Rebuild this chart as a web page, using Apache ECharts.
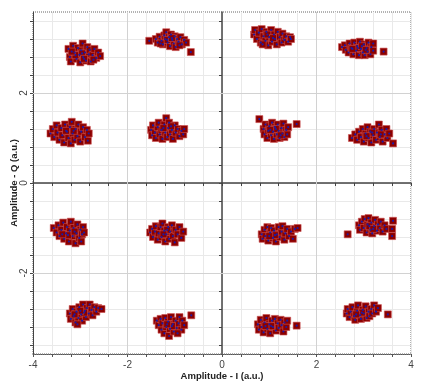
<!DOCTYPE html>
<html>
<head>
<meta charset="utf-8">
<script src="https://cdn.jsdelivr.net/npm/echarts@6/dist/echarts.min.js"></script>
<style>html,body{margin:0;padding:0;background:#fff}#c{width:421px;height:388px}</style>
</head>
<body>
<div id="c"></div>
<script>
var xTicks = [-4,-3.6,-3.2,-2.8,-2.4,-2,-1.6,-1.2,-0.8,-0.4,0,0.4,0.8,1.2,1.6,2,2.4,2.8,3.2,3.6,4];
var yTicks = [-3.6,-3.2,-2.8,-2.4,-2,-1.6,-1.2,-0.8,-0.4,0,0.4,0.8,1.2,1.6,2,2.4,2.8,3.2,3.6];
var xLabels = [-4,-2,0,2,4];
var yLabels = [-2,0,2];
var xName = 'Amplitude - I (a.u.)';
var yName = 'Amplitude - Q (a.u.)';

var clusterA = [[-3.25,2.98],[-3.22,2.80],[-3.20,2.70],[-3.15,3.05],[-3.12,2.90],[-3.08,2.76],[-3.05,3.00],[-3.02,2.85],[-3.00,2.68],[-2.98,2.95],[-2.95,3.10],[-2.94,2.80],[-2.90,2.90],[-2.88,2.72],[-2.85,3.02],[-2.82,2.86],[-2.80,2.96],[-2.78,2.70],[-2.74,2.84],[-2.70,2.98],[-2.66,2.78],[-2.62,2.90],[-2.58,2.82],[-3.10,2.84],[-2.96,2.88],[-3.18,2.92],[-2.92,2.76],[-2.72,2.74]];
var clusterB = [[-1.54,3.16],[-0.66,2.91],[-1.40,3.20],[-1.36,3.12],[-1.32,3.25],[-1.28,3.16],[-1.25,3.08],[-1.22,3.28],[-1.20,3.20],[-1.18,3.35],[-1.15,3.12],[-1.12,3.24],[-1.10,3.04],[-1.08,3.30],[-1.05,3.18],[-1.02,3.10],[-1.00,3.26],[-0.98,3.02],[-0.95,3.20],[-0.92,3.14],[-0.88,3.24],[-0.85,3.08],[-0.80,3.18],[-0.76,3.12],[-1.16,3.18],[-1.06,3.22],[-1.30,3.10],[-0.90,3.06]];
var clusterC = [[-3.63,1.10],[-3.58,1.20],[-3.55,1.02],[-3.50,1.28],[-3.48,1.12],[-3.44,0.96],[-3.40,1.22],[-3.38,1.06],[-3.34,0.90],[-3.32,1.30],[-3.28,1.14],[-3.25,1.00],[-3.22,1.24],[-3.20,0.88],[-3.18,1.36],[-3.16,1.10],[-3.12,0.96],[-3.10,1.20],[-3.06,1.04],[-3.04,1.30],[-3.00,0.92],[-2.98,1.14],[-2.94,1.24],[-2.90,1.02],[-2.86,1.18],[-2.84,0.94],[-2.82,1.10],[-3.30,1.16],[-3.14,1.16]];
var clusterD = [[-1.50,1.18],[-1.48,1.06],[-1.46,1.28],[-1.42,1.12],[-1.40,1.00],[-1.36,1.24],[-1.34,1.34],[-1.32,1.08],[-1.28,1.18],[-1.26,0.98],[-1.22,1.30],[-1.20,1.12],[-1.18,1.44],[-1.16,1.02],[-1.14,1.22],[-1.12,1.34],[-1.10,1.08],[-1.06,1.18],[-1.04,0.98],[-1.00,1.28],[-0.98,1.12],[-0.94,1.20],[-0.90,1.04],[-0.86,1.16],[-0.82,1.08],[-0.80,1.20],[-1.24,1.22],[-1.08,1.26]];
var clusterE = [[0.68,3.30],[0.70,3.40],[0.74,3.20],[0.78,3.34],[0.82,3.12],[0.84,3.42],[0.88,3.26],[0.92,3.16],[0.94,3.36],[0.98,3.06],[1.00,3.24],[1.04,3.40],[1.06,3.14],[1.10,3.30],[1.12,3.20],[1.16,3.08],[1.18,3.36],[1.22,3.24],[1.26,3.12],[1.28,3.32],[1.32,3.18],[1.36,3.26],[1.40,3.14],[1.44,3.24],[1.46,3.20],[0.96,3.30],[1.08,3.22],[0.86,3.08]];
var clusterF = [[3.42,2.92],[2.54,3.02],[2.60,3.06],[2.62,2.96],[2.68,2.90],[2.70,3.10],[2.74,3.00],[2.78,2.86],[2.80,3.12],[2.84,2.94],[2.86,3.04],[2.90,2.84],[2.92,3.14],[2.94,2.98],[2.98,2.90],[3.00,3.08],[3.02,2.84],[3.06,3.00],[3.08,2.92],[3.10,3.12],[3.14,2.86],[3.16,3.02],[3.20,2.94],[3.20,3.10],[2.88,3.00],[2.96,3.04],[3.04,2.96],[2.76,2.98]];
var clusterG = [[0.79,1.42],[1.58,1.31],[0.88,1.20],[0.90,1.08],[0.92,1.30],[0.96,1.00],[0.98,1.16],[1.00,1.26],[1.04,1.06],[1.06,1.34],[1.08,1.14],[1.10,0.98],[1.12,1.24],[1.16,1.08],[1.18,1.30],[1.20,1.16],[1.22,1.00],[1.26,1.22],[1.28,1.10],[1.30,1.32],[1.32,1.02],[1.36,1.18],[1.38,1.08],[1.40,1.24],[1.14,1.20],[1.02,1.18],[1.24,1.06]];
var clusterH = [[2.75,1.00],[2.82,1.08],[2.86,0.96],[2.90,1.14],[2.94,1.02],[2.98,1.20],[3.00,0.92],[3.04,1.10],[3.08,1.24],[3.10,1.00],[3.14,1.14],[3.16,0.90],[3.20,1.06],[3.22,1.20],[3.26,0.96],[3.28,1.12],[3.32,1.30],[3.34,1.02],[3.38,1.18],[3.40,0.92],[3.44,1.08],[3.48,1.20],[3.50,1.00],[3.54,1.10],[3.62,0.88],[3.18,1.12],[3.06,1.04],[3.36,1.08]];
var clusterI = [[-3.56,-1.00],[-3.50,-1.10],[-3.46,-0.94],[-3.44,-1.18],[-3.40,-1.04],[-3.36,-0.88],[-3.34,-1.24],[-3.30,-1.12],[-3.28,-0.98],[-3.24,-1.30],[-3.22,-1.06],[-3.20,-0.86],[-3.16,-1.18],[-3.14,-1.00],[-3.10,-1.34],[-3.08,-1.12],[-3.06,-0.92],[-3.02,-1.22],[-3.00,-1.04],[-2.98,-1.30],[-2.96,-1.14],[-2.94,-0.98],[-2.92,-1.10],[-3.26,-1.16],[-3.12,-1.08],[-3.38,-1.14]];
var clusterJ = [[-1.52,-1.10],[-1.48,-1.02],[-1.46,-1.20],[-1.42,-1.08],[-1.40,-0.96],[-1.36,-1.26],[-1.34,-1.12],[-1.30,-0.98],[-1.28,-1.20],[-1.26,-0.90],[-1.22,-1.06],[-1.20,-1.30],[-1.18,-1.14],[-1.14,-0.98],[-1.12,-1.24],[-1.10,-1.08],[-1.06,-0.94],[-1.04,-1.18],[-1.00,-1.32],[-0.98,-1.04],[-0.94,-1.14],[-0.90,-0.98],[-0.86,-1.22],[-0.82,-1.08],[-1.16,-1.04],[-1.24,-1.14]];
var clusterK = [[-3.22,-2.90],[-3.20,-3.02],[-3.16,-2.80],[-3.14,-2.96],[-3.10,-3.10],[-3.08,-2.86],[-3.04,-3.00],[-3.02,-2.76],[-2.98,-2.92],[-2.96,-3.06],[-2.94,-2.70],[-2.90,-2.84],[-2.88,-2.98],[-2.86,-2.78],[-2.82,-2.90],[-2.80,-2.70],[-2.76,-2.82],[-2.74,-2.94],[-2.70,-2.76],[-2.66,-2.86],[-2.62,-2.78],[-2.55,-2.80],[-3.06,-3.14],[-2.92,-2.88],[-3.00,-2.84],[-3.12,-2.92]];
var clusterL = [[-0.65,-2.94],[-1.38,-3.06],[-1.34,-3.16],[-1.30,-3.02],[-1.28,-3.26],[-1.26,-3.12],[-1.22,-3.34],[-1.20,-3.00],[-1.18,-3.20],[-1.14,-3.08],[-1.12,-3.40],[-1.10,-3.24],[-1.08,-2.98],[-1.04,-3.14],[-1.02,-3.30],[-0.98,-3.06],[-0.96,-3.22],[-0.92,-3.12],[-0.90,-2.98],[-0.86,-3.26],[-0.84,-3.06],[-0.80,-3.16],[-1.06,-3.18],[-1.16,-3.14],[-0.94,-3.34]];
var clusterM = [[0.84,-1.14],[0.86,-1.24],[0.90,-1.04],[0.92,-1.18],[0.96,-0.98],[0.98,-1.28],[1.02,-1.10],[1.04,-1.00],[1.08,-1.22],[1.10,-1.06],[1.14,-1.30],[1.16,-1.14],[1.20,-0.98],[1.22,-1.20],[1.26,-1.08],[1.28,-0.96],[1.32,-1.26],[1.34,-1.12],[1.38,-1.02],[1.42,-1.18],[1.46,-1.08],[1.50,-1.24],[1.54,-1.02],[1.60,-1.00],[1.12,-1.16],[1.00,-1.18]];
var clusterN = [[2.66,-1.14],[2.90,-0.94],[2.92,-1.04],[2.96,-0.86],[3.00,-1.00],[3.02,-0.80],[3.06,-1.10],[3.08,-0.92],[3.10,-0.78],[3.14,-1.04],[3.16,-0.88],[3.18,-1.12],[3.22,-0.96],[3.24,-0.82],[3.28,-1.06],[3.30,-0.92],[3.34,-1.00],[3.36,-0.86],[3.40,-1.08],[3.44,-0.94],[3.48,-1.02],[3.62,-0.84],[3.60,-1.02],[3.60,-1.18],[3.12,-0.96],[3.20,-1.02]];
var clusterO = [[1.58,-3.17],[0.76,-3.14],[0.78,-3.26],[0.82,-3.04],[0.84,-3.20],[0.88,-3.32],[0.90,-3.10],[0.94,-3.00],[0.96,-3.24],[1.00,-3.14],[1.02,-3.34],[1.06,-3.06],[1.08,-3.20],[1.12,-3.02],[1.14,-3.28],[1.18,-3.12],[1.20,-3.22],[1.24,-3.04],[1.26,-3.16],[1.30,-3.30],[1.32,-3.10],[1.36,-3.20],[1.38,-3.06],[1.04,-3.18],[0.92,-3.18]];
var clusterP = [[3.51,-2.92],[2.64,-2.90],[2.66,-2.80],[2.70,-2.98],[2.72,-2.86],[2.76,-2.76],[2.80,-2.96],[2.82,-3.04],[2.86,-2.84],[2.88,-2.72],[2.92,-2.94],[2.94,-3.02],[2.98,-2.82],[3.00,-2.90],[3.04,-2.74],[3.06,-3.00],[3.10,-2.86],[3.12,-2.96],[3.16,-2.80],[3.18,-2.90],[3.22,-2.72],[3.26,-2.86],[3.30,-2.78],[2.96,-2.88],[2.84,-2.92]];

var allPoints = [].concat(clusterA, clusterB, clusterC, clusterD, clusterE, clusterF, clusterG, clusterH,
  clusterI, clusterJ, clusterK, clusterL, clusterM, clusterN, clusterO, clusterP);

var chart = echarts.init(document.getElementById('c'), null, {renderer: 'canvas'});
var labelFont = {color: '#444', fontSize: 10, fontFamily: 'Liberation Sans, Arial, sans-serif'};
var nameFont = {color: '#222', fontSize: 9.5, fontWeight: 'bold', fontFamily: 'Liberation Sans, Arial, sans-serif'};

chart.setOption({
  animation: false,
  backgroundColor: '#fff',
  grid: {left: 33, right: 10, top: 12, bottom: 34, containLabel: false, outerBoundsMode: 'none',
         show: true, borderColor: '#666', borderWidth: 1, borderType: 'dotted', backgroundColor: 'transparent'},
  xAxis: [
    {type: 'value', min: -4, max: 4, position: 'bottom',
     name: xName, nameLocation: 'middle', nameGap: 17, nameMoveOverlap: false, nameTextStyle: nameFont,
     axisLine: {onZero: false, lineStyle: {color: '#555', type: 'dotted'}},
     axisTick: {customValues: xTicks, length: 3, lineStyle: {color: '#555'}},
     axisLabel: {customValues: xLabels, margin: 6, color: labelFont.color, fontSize: labelFont.fontSize, fontFamily: labelFont.fontFamily},
     splitLine: {show: true, lineStyle: {color: '#e9e9e9', width: 1}}},
    {type: 'value', min: -4, max: 4, position: 'top',
     axisLine: {onZero: true, onZeroAxisIndex: 0, lineStyle: {color: '#444', width: 1.5}},
     axisTick: {customValues: xTicks, inside: true, length: 3, lineStyle: {color: '#444'}},
     axisLabel: {show: false}, splitLine: {show: false}}
  ],
  yAxis: [
    {type: 'value', min: -3.8, max: 3.8, position: 'left',
     name: yName, nameLocation: 'middle', nameGap: 14, nameMoveOverlap: false, nameTextStyle: nameFont,
     axisLine: {onZero: false, lineStyle: {color: '#444', width: 1}},
     axisTick: {customValues: yTicks, length: 3, lineStyle: {color: '#444'}},
     axisLabel: {customValues: yLabels, rotate: 90, margin: 4, color: labelFont.color, fontSize: labelFont.fontSize, fontFamily: labelFont.fontFamily},
     splitLine: {show: true, lineStyle: {color: '#e9e9e9', width: 1}}},
    {type: 'value', min: -3.8, max: 3.8, position: 'right',
     axisLine: {onZero: true, onZeroAxisIndex: 0, lineStyle: {color: '#444', width: 1.5}},
     axisTick: {customValues: yTicks, inside: true, length: 3, lineStyle: {color: '#444'}},
     axisLabel: {show: false}, splitLine: {show: false}}
  ],
  series: [
    {type: 'scatter', xAxisIndex: 0, yAxisIndex: 0, data: allPoints, symbol: 'rect', symbolSize: 7,
     itemStyle: {color: '#8b0000', borderColor: 'rgba(205,80,80,0.6)', borderWidth: 1, opacity: 1},
     z: 3,
     markLine: {silent: true, symbol: 'none', label: {show: false}, animation: false,
       lineStyle: {color: '#d2d2d2', type: 'solid', width: 1},
       data: [{xAxis: -2}, {xAxis: 2}, {yAxis: -2}, {yAxis: 2}]}},
    {type: 'scatter', xAxisIndex: 0, yAxisIndex: 0, data: allPoints, symbol: 'circle', symbolSize: 2.2,
     itemStyle: {color: '#1a1aa6', opacity: 1}, z: 4}
  ]
});
</script>
</body>
</html>
